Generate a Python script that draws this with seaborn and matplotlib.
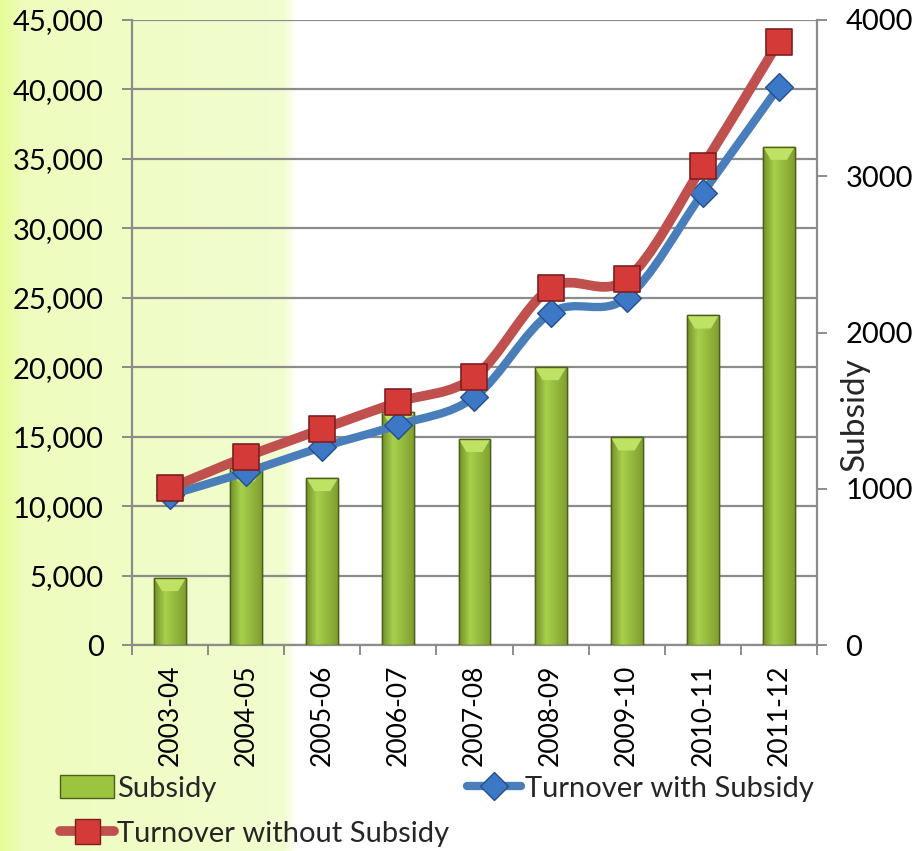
import numpy as np
import pandas as pd
import seaborn as sns
import matplotlib
matplotlib.use("Agg")
import matplotlib.pyplot as plt
from matplotlib.path import Path
from matplotlib.patches import PathPatch, Patch
from matplotlib.lines import Line2D
from matplotlib.ticker import FuncFormatter

# ---------------- data ----------------
years = ['2003-04', '2004-05', '2005-06', '2006-07', '2007-08',
         '2008-09', '2009-10', '2010-11', '2011-12']
subsidy = [430, 1130, 1070, 1490, 1320, 1780, 1330, 2110, 3190]
turnover_with = [10800, 12450, 14250, 15850, 17850, 23900, 25000, 32550, 40200]
turnover_without = [11300, 13550, 15550, 17500, 19300, 25700, 26350, 34500, 43450]
left_ticks = [0, 5000, 10000, 15000, 20000, 25000, 30000, 35000, 40000, 45000]
right_ticks = [0, 1000, 2000, 3000, 4000]
legend_labels = ['Subsidy', 'Turnover with Subsidy', 'Turnover without Subsidy']
right_label = 'Subsidy'

df = pd.DataFrame({'year': years, 'subsidy': subsidy,
                   'with': turnover_with, 'without': turnover_without})

# ---------------- style ----------------
sns.set_theme(style='white')
plt.rcParams['font.family'] = ['Lato', 'DejaVu Sans']

GRID = '#8c8c8c'
RED = '#c0504d'
BLUE = '#4a7ebb'
GREEN = '#9bc43f'
GREEN_EDGE = '#4d5f1c'

fig = plt.figure(figsize=(9.16, 8.51), dpi=100)

# left yellow-green background panel
bg = fig.add_axes([0, 0, 296 / 916, 1], zorder=-10)
bg.axis('off')
w = 296
c0 = np.array([230, 252, 150]) / 255
c1 = np.array([238, 252, 190]) / 255
c2 = np.array([242, 253, 208]) / 255
img = np.ones((2, w, 4))
for i in range(w):
    if i < 25:
        t = i / 25
        col = c0 * (1 - t) + c1 * t
    elif i < 284:
        t = (i - 25) / 259
        col = c1 * (1 - t) + c2 * t
    else:
        t = (i - 284) / 12
        col = c2 * (1 - t) + np.ones(3) * t
    img[:, i, :3] = col
bg.imshow(img, aspect='auto', extent=[0, 1, 0, 1])
bg.set_xlim(0, 1)
bg.set_ylim(0, 1)

pos = [132 / 916, 1 - 645 / 851, (817 - 132) / 916, (645 - 20) / 851]

# grid / left axis
ax = fig.add_axes(pos, zorder=1)
ax.set_facecolor('none')
ax.set_ylim(0, 45000)
ax.set_xlim(-0.5, 8.5)
ax.set_yticks(left_ticks)
ax.yaxis.set_major_formatter(FuncFormatter(lambda v, p: f'{int(v):,}'))
ax.grid(axis='y', color=GRID, lw=1.6)
ax.grid(axis='x', visible=False)
ax.set_axisbelow(True)
for s in ['top', 'right']:
    ax.spines[s].set_visible(False)
for s in ['left', 'bottom']:
    ax.spines[s].set_color(GRID)
    ax.spines[s].set_linewidth(1.6)
ax.tick_params(axis='y', length=7.5, width=1.4, color=GRID, pad=13,
               labelsize=21, labelcolor='black', left=True, direction='out')

# bars on secondary axis
ax2 = ax.twinx()
ax2.set_zorder(2)
ax2.set_facecolor('none')
sns.barplot(data=df, x='year', y='subsidy', ax=ax2, width=0.42, color=GREEN,
            edgecolor=GREEN_EDGE, linewidth=1.0, saturation=1)
ax2.set_ylim(0, 4000)
ax2.set_yticks(right_ticks)
ax2.set_ylabel('')
ax2.set_xlabel('')
for s in ['top', 'left', 'bottom']:
    ax2.spines[s].set_visible(False)
ax2.spines['right'].set_color(GRID)
ax2.spines['right'].set_linewidth(1.6)
ax2.tick_params(axis='y', right=True, length=7.5, width=1.4, color=GRID, pad=13,
                labelsize=21, labelcolor='black', direction='out')
ax2.tick_params(axis='x', which='both', bottom=False, labelbottom=False)
ax2.text(1.056, 0.37, right_label, transform=ax2.transAxes, rotation=90,
         fontsize=24, ha='center', va='center')

# gradient fill on bars
grad = np.zeros((1, 64, 3))
cl = np.array([0x72, 0x90, 0x2a]) / 255
cm = np.array([0xa8, 0xd0, 0x4c]) / 255
cr = np.array([0x80, 0xa0, 0x30]) / 255
for i in range(64):
    t = i / 63
    if t < 0.35:
        u = t / 0.35
        grad[0, i] = cl * (1 - u) + cm * u
    else:
        u = (t - 0.35) / 0.65
        grad[0, i] = cm * (1 - u) + cr * u
for p in list(ax2.patches):
    x0, y0 = p.get_x(), p.get_y()
    wd, ht = p.get_width(), p.get_height()
    im = ax2.imshow(grad, extent=[x0, x0 + wd, y0, y0 + ht], aspect='auto',
                    zorder=p.get_zorder() + 0.1, interpolation='bilinear')
    im.set_clip_path(p)
    tri = plt.Polygon([[x0, y0 + ht], [x0 + wd, y0 + ht],
                       [x0 + wd * 0.75, y0 + ht - 85], [x0 + wd * 0.25, y0 + ht - 85]],
                      closed=True, facecolor='#bfe264', edgecolor='none',
                      zorder=p.get_zorder() + 0.2)
    ax2.add_patch(tri)
    outline = plt.Rectangle((x0, y0), wd, ht, facecolor='none', edgecolor=GREEN_EDGE,
                            lw=1.0, zorder=p.get_zorder() + 0.3)
    ax2.add_patch(outline)
ax2.set_xlim(-0.5, 8.5)
ax2.set_ylim(0, 4000)

# x axis ticks/labels
ax.set_xticks(range(len(years)))
ax.set_xticklabels(years, rotation=90)
ax.set_xticks(np.arange(-0.5, len(years), 1.0), minor=True)
ax.tick_params(axis='x', which='major', length=0, pad=14, labelcolor='black',
               labelsize=19)
ax.tick_params(axis='x', which='minor', bottom=True, length=7.5, width=1.4,
               color=GRID, direction='out')

# line axis on top
ax3 = fig.add_axes(pos, zorder=3, sharex=ax, sharey=ax)
ax3.set_facecolor('none')
ax3.axis('off')


def smooth_path(xv, yv):
    pts = np.column_stack([xv, yv]).astype(float)
    n = len(pts)
    verts = [pts[0]]
    codes = [Path.MOVETO]
    for i in range(n - 1):
        p0 = pts[i - 1] if i > 0 else pts[i]
        p1 = pts[i]
        p2 = pts[i + 1]
        p3 = pts[i + 2] if i + 2 < n else pts[i + 1]
        c1 = p1 + (p2 - p0) / 6.0
        c2 = p2 - (p3 - p1) / 6.0
        verts += [c1, c2, p2]
        codes += [Path.CURVE4] * 3
    return Path(verts, codes)


xpos = np.arange(len(years))
for yv, col, lw, zo in [(turnover_with, BLUE, 6.0, 3), (turnover_without, RED, 7.0, 5)]:
    pp = PathPatch(smooth_path(xpos, yv), facecolor='none', edgecolor=col, lw=lw,
                   capstyle='round', joinstyle='round', zorder=zo)
    ax3.add_patch(pp)

sns.scatterplot(x=xpos, y=turnover_with, marker='D', s=200, color='#3c78c6',
                edgecolor='#23508e', linewidth=1.0, ax=ax3, zorder=4, legend=False)
sns.scatterplot(x=xpos, y=turnover_without, marker='s', s=330, color='#d43a38',
                edgecolor='#7e1f1f', linewidth=1.2, ax=ax3, zorder=6, legend=False)
ax3.set_xlim(-0.5, 8.5)
ax3.set_ylim(0, 45000)

# legend
h_sub = Patch(facecolor=GREEN, edgecolor=GREEN_EDGE, linewidth=1.0)
h_with = Line2D([], [], color=BLUE, lw=6, marker='D', markersize=14,
                markerfacecolor='#3c78c6', markeredgecolor='#23508e',
                solid_capstyle='round')
h_without = Line2D([], [], color=RED, lw=7, marker='s', markersize=18,
                   markerfacecolor='#d43a38', markeredgecolor='#7e1f1f',
                   solid_capstyle='round')
fig.legend(handles=[h_sub, h_without, h_with],
           labels=[legend_labels[0], legend_labels[2], legend_labels[1]],
           ncol=2, loc='upper left', bbox_to_anchor=(60 / 916, 1 - 775 / 851),
           frameon=False, fontsize=21, handlelength=1.85, handleheight=0.85,
           handletextpad=0.12, columnspacing=0.6, labelspacing=0.62,
           borderaxespad=0, borderpad=0)

fig.savefig('out.png', dpi=100)
